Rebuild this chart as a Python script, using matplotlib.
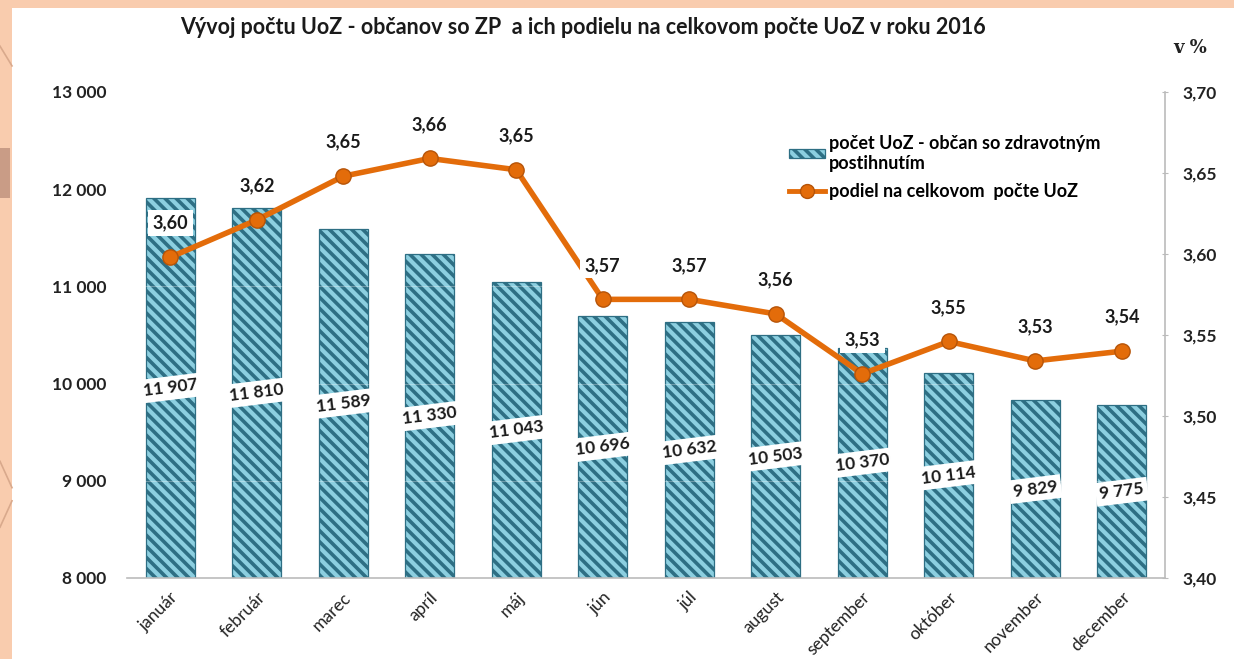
import numpy as np
import matplotlib.pyplot as plt
from matplotlib.patches import Rectangle
from matplotlib.lines import Line2D

plt.rcParams['font.family'] = ['Lato', 'DejaVu Sans']
plt.rcParams['hatch.linewidth'] = 2.6
plt.rcParams['hatch.color'] = '#277B96'

mesiace = ['január', 'február', 'marec', 'apríl', 'máj', 'jún', 'júl',
           'august', 'september', 'október', 'november', 'december']
pocet = [11907, 11810, 11589, 11330, 11043, 10696, 10632, 10503, 10370, 10114, 9829, 9775]
podiel = [3.598, 3.621, 3.648, 3.659, 3.652, 3.572, 3.572, 3.563, 3.526, 3.546, 3.534, 3.540]
podiel_txt = ['3,60', '3,62', '3,65', '3,66', '3,65', '3,57', '3,57', '3,56', '3,53', '3,55', '3,53', '3,54']
lavy_ticks = [8000, 9000, 10000, 11000, 12000, 13000]
pravy_ticks = [3.40, 3.45, 3.50, 3.55, 3.60, 3.65, 3.70]

fig = plt.figure(figsize=(12.34, 6.59), dpi=100)
fig.patch.set_facecolor('#F9CCAE')
# biely panel
fig.patches.append(Rectangle((12/1234, 0), 1, 1 - 8/659, transform=fig.transFigure,
                             facecolor='white', edgecolor='none', zorder=-5))
# dekoracne oblúky vlavo
for y0, y1 in [(0.93, 0.90), (0.30, 0.26), (0.20, 0.24)]:
    fig.add_artist(Line2D([0, 12/1234], [y0, y1], color='#D9A98C', lw=1.2, zorder=-4))
fig.patches.append(Rectangle((0, 0.70), 10/1234, 0.075, transform=fig.transFigure,
                             facecolor='#C99C86', edgecolor='none', zorder=-4))

ax = fig.add_axes([127/1234, 1 - 578/659, 1038/1234, 486/659])
ax.set_facecolor('none')
x = np.arange(len(mesiace))

bars = ax.bar(x, pocet, width=0.57, bottom=0, color='#8CCFE0', edgecolor='#2E6F84',
              linewidth=0.9, hatch='\\\\\\', zorder=2)
for yy in [9000, 10000, 11000]:
    ax.axhline(yy, color='white', lw=0.8, alpha=0.3, zorder=3)

for xi, v in zip(x, pocet):
    t = '{:,}'.format(v).replace(',', ' ')
    ax.text(xi, (8000 + v) / 2, t, ha='center', va='center', rotation=7,
            fontsize=12.5, fontweight='bold', color='#1A1A1A', zorder=5,
            bbox=dict(boxstyle='square,pad=0.22', facecolor='white', edgecolor='none'))

ax.set_xlim(-0.5, 11.5)
ax.set_ylim(8000, 13000)
ax.set_yticks(lavy_ticks)
ax.set_yticklabels(['{:,}'.format(v).replace(',', ' ') for v in lavy_ticks],
                   fontsize=12.5, fontweight='bold', color='#222222')
ax.set_xticks(x)
ax.set_xticklabels(mesiace, rotation=45, ha='right', rotation_mode='anchor',
                   fontsize=12.5, color='#222222')
ax.tick_params(axis='y', length=0, pad=15)
ax.tick_params(axis='x', length=0, pad=8)
for s in ['top', 'left', 'right']:
    ax.spines[s].set_visible(False)
ax.spines['bottom'].set_color('#BBBBBB')
ax.spines['bottom'].set_linewidth(1.2)

ax2 = ax.twinx()
ax2.plot(x, podiel, color='#E36C0A', lw=4, marker='o', markersize=11,
         markerfacecolor='#E36C0A', markeredgecolor='#B65408', markeredgewidth=1, zorder=4)
for xi, v, t in zip(x, podiel, podiel_txt):
    ax2.text(xi, v + 0.021, t, ha='center', va='center', fontsize=13,
             fontweight='bold', color='#1A1A1A', zorder=6,
             bbox=dict(boxstyle='square,pad=0.25', facecolor='white', edgecolor='none'))
ax2.set_ylim(3.40, 3.70)
ax2.set_yticks(pravy_ticks)
ax2.set_yticklabels(['{:.2f}'.format(v).replace('.', ',') for v in pravy_ticks],
                    fontsize=12.5, fontweight='bold', color='#222222')
ax2.tick_params(axis='y', length=5, direction='inout', color='#BBBBBB', pad=10)
for s in ['top', 'left', 'bottom']:
    ax2.spines[s].set_visible(False)
ax2.spines['right'].set_color('#BBBBBB')
ax2.spines['right'].set_linewidth(1.2)

handles = [bars, Line2D([], [], color='#E36C0A', lw=3.5, marker='o', markersize=10,
                        markeredgecolor='#B65408')]
labels = ['počet UoZ - občan so zdravotným\npostihnutím', 'podiel na celkovom  počte UoZ']
ax2.legend(handles, labels, loc='upper left', bbox_to_anchor=(0.622, 0.945),
           frameon=False, handlelength=2.0, handleheight=0.4, handletextpad=0.2,
           labelspacing=0.6, prop={'weight': 'bold', 'size': 13})

fig.text(583/1234, 1 - 27/659, 'Vývoj počtu UoZ - občanov so ZP  a ich podielu na celkovom počte UoZ v roku 2016',
         ha='center', va='center', fontsize=15.5, fontweight='bold', color='#1A1A1A')
fig.text(1190/1234, 1 - 48/659, 'v %', ha='center', va='center', fontsize=13,
         fontweight='bold', family=['DejaVu Serif'], color='#222222')

fig.savefig('out.png', dpi=100, facecolor=fig.get_facecolor())
